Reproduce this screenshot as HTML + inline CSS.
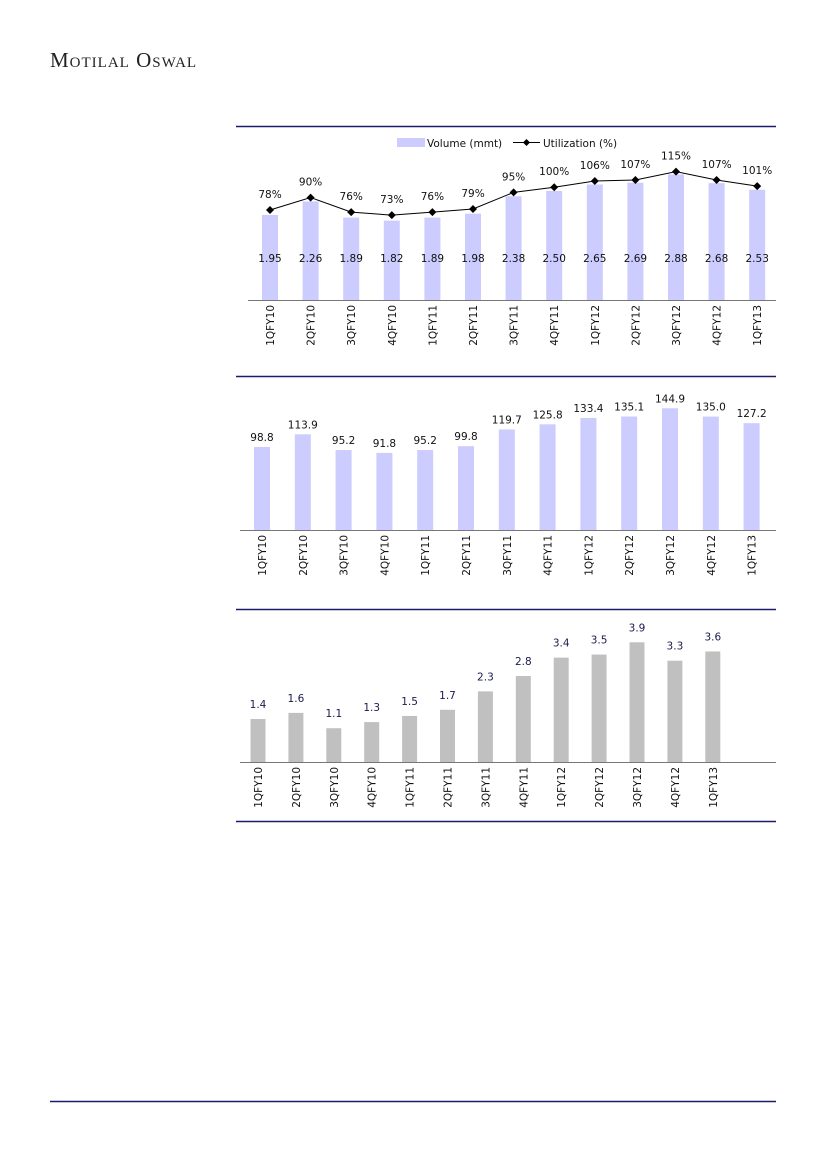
<!DOCTYPE html>
<html><head><meta charset="utf-8"><style>
body{margin:0;background:#fff}
svg text{font-family:"DejaVu Sans","Liberation Sans",sans-serif;font-size:10.5px;fill:#111}
</style></head><body>
<svg width="826" height="1169" viewBox="0 0 826 1169" xmlns="http://www.w3.org/2000/svg">
<text x="50" y="67" style="font-family:'Liberation Serif',serif;font-size:21px;fill:#222;font-variant:small-caps;letter-spacing:1px">Motilal Oswal</text>
<line x1="236" y1="126.5" x2="776" y2="126.5" stroke="#1a1a6e" stroke-width="1.5"/>
<line x1="236" y1="376.5" x2="776" y2="376.5" stroke="#1a1a6e" stroke-width="1.5"/>
<line x1="236" y1="609.5" x2="776" y2="609.5" stroke="#1a1a6e" stroke-width="1.5"/>
<line x1="236" y1="821.5" x2="776" y2="821.5" stroke="#1a1a6e" stroke-width="1.5"/>
<line x1="50" y1="1101.5" x2="776" y2="1101.5" stroke="#1a1a6e" stroke-width="1.5"/>
<rect x="397" y="138" width="28" height="9" fill="#ccccff"/>
<text x="427" y="147">Volume (mmt)</text>
<line x1="513" y1="142.5" x2="540" y2="142.5" stroke="#000"/>
<path d="M526.5 139L530 142.5 526.5 146 523 142.5Z" fill="#000"/>
<text x="543" y="147">Utilization (%)</text>
<line x1="248" y1="300.5" x2="776" y2="300.5" stroke="#777"/>
<line x1="240" y1="530.5" x2="776" y2="530.5" stroke="#777"/>
<line x1="240" y1="762.5" x2="776" y2="762.5" stroke="#777"/>
<g id="c1"></g><g id="c2"></g><g id="c3"></g>
<script>
const L=["1QFY10","2QFY10","3QFY10","4QFY10","1QFY11","2QFY11","3QFY11","4QFY11","1QFY12","2QFY12","3QFY12","4QFY12","1QFY13"];
const v1=[1.95,2.26,1.89,1.82,1.89,1.98,2.38,2.50,2.65,2.69,2.88,2.68,2.53];
const u=[78,90,76,73,76,79,95,100,106,107,115,107,101];
const v2=[98.8,113.9,95.2,91.8,95.2,99.8,119.7,125.8,133.4,135.1,144.9,135.0,127.2];
const v3=[1.4,1.6,1.1,1.3,1.5,1.7,2.3,2.8,3.4,3.5,3.9,3.3,3.6];
const ns="http://www.w3.org/2000/svg";
function el(g,t,a,txt){const e=document.createElementNS(ns,t);for(const k in a)e.setAttribute(k,a[k]);if(txt!==undefined)e.textContent=txt;g.appendChild(e);return e;}
let g=document.getElementById("c1");let pts=[];
L.forEach((l,i)=>{const x=270+i*40.6,h=v1[i]*43.6;
el(g,"rect",{x:x-8,y:300-h,width:16,height:h,fill:"#ccccff"});
el(g,"text",{x:x,y:262,"text-anchor":"middle"},v1[i].toFixed(2));
const y=210-(u[i]-78)*1.036;pts.push(x+","+y);
el(g,"text",{x:x,y:y-12,"text-anchor":"middle"},u[i]+"%");
el(g,"text",{transform:`translate(${x+4},305) rotate(-90)`,"text-anchor":"end"},l);});
el(g,"polyline",{points:pts.join(" "),fill:"none",stroke:"#000","stroke-width":1});
pts.forEach(p=>{const [x,y]=p.split(",").map(Number);el(g,"path",{d:`M${x} ${y-4}L${x+4} ${y} ${x} ${y+4} ${x-4} ${y}Z`,fill:"#000"});});
g=document.getElementById("c2");
L.forEach((l,i)=>{const x=262+i*40.8,h=v2[i]*0.84;
el(g,"rect",{x:x-8,y:530-h,width:16,height:h,fill:"#ccccff"});
el(g,"text",{x:x,y:530-h-6,"text-anchor":"middle"},v2[i].toFixed(1));
el(g,"text",{transform:`translate(${x+4},535) rotate(-90)`,"text-anchor":"end"},l);});
g=document.getElementById("c3");
L.forEach((l,i)=>{const x=258+i*37.9,h=v3[i]*30.7;
el(g,"rect",{x:x-7.5,y:762-h,width:15,height:h,fill:"#c0c0c0"});
el(g,"text",{x:x,y:762-h-11,"text-anchor":"middle",style:"fill:#1a1a4e"},v3[i].toFixed(1));
el(g,"text",{transform:`translate(${x+4},767) rotate(-90)`,"text-anchor":"end"},l);});
</script>
</svg>
</body></html>
